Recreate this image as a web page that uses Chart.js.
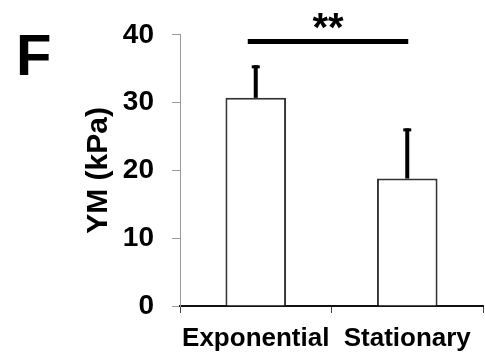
<!DOCTYPE html>
<html>
<head>
<meta charset="utf-8">
<script src="https://cdn.jsdelivr.net/npm/chart.js@4"></script>
<style>
  body { margin: 0; background: #fff; }
  #wrap { position: relative; width: 485px; height: 355px; }
</style>
</head>
<body>
<div id="wrap"><canvas id="ymChart"></canvas></div>
<script>
const categories = ['Exponential', 'Stationary']
const means = [30.7, 18.8]
const errors = [4.8, 7.4]
const yTicks = [0, 10, 20, 30, 40]
const panelLabel = 'F'
const sigLabel = '**'
const sigLevel = 39

const FONT = "'Liberation Sans', Arial, sans-serif"

// error bars + significance line + panel letter
const extras = {
  id: 'extras',
  afterDatasetsDraw(chart) {
    const ctx = chart.ctx
    const y = chart.scales.y
    const bars = chart.getDatasetMeta(0).data
    ctx.save()
    ctx.strokeStyle = '#000'
    bars.forEach((bar, i) => {
      const top = y.getPixelForValue(means[i] + errors[i])
      const base = y.getPixelForValue(means[i])
      ctx.lineWidth = 4
      ctx.beginPath()
      ctx.moveTo(bar.x, base)
      ctx.lineTo(bar.x, top)
      ctx.stroke()
      ctx.lineWidth = 3
      ctx.beginPath()
      ctx.moveTo(bar.x - 4, top + 1.5)
      ctx.lineTo(bar.x + 4, top + 1.5)
      ctx.stroke()
    })

    const sy = y.getPixelForValue(sigLevel)
    const x0 = bars[0].x - 8
    const x1 = bars[1].x + 1
    ctx.lineWidth = 5
    ctx.beginPath()
    ctx.moveTo(x0, sy)
    ctx.lineTo(x1, sy)
    ctx.stroke()

    ctx.fillStyle = '#000'
    ctx.textAlign = 'center'
    ctx.textBaseline = 'alphabetic'
    ctx.font = 'bold 40px ' + FONT
    ctx.fillText(sigLabel, (x0 + x1) / 2, sy - 1)

    ctx.textAlign = 'left'
    ctx.font = 'bold 58px ' + FONT
    ctx.fillText(panelLabel, 16, 75)
    ctx.restore()
  },
}

new Chart(document.getElementById('ymChart'), {
  type: 'bar',
  data: {
    labels: categories,
    datasets: [
      {
        data: means,
        backgroundColor: '#fff',
        borderColor: '#333',
        borderWidth: 2,
        barPercentage: 0.4,
        categoryPercentage: 1,
      },
    ],
  },
  options: {
    responsive: true,
    maintainAspectRatio: false,
    animation: false,
    layout: { padding: { top: 31, right: 2, left: 0, bottom: 0 } },
    plugins: {
      legend: { display: false },
      tooltip: { enabled: false },
    },
    scales: {
      x: {
        grid: {
          offset: true,
          drawOnChartArea: false,
          tickLength: 7,
          color: '#444',
        },
        border: { color: '#111', width: 2 },
        ticks: {
          color: '#000',
          padding: 10,
          maxRotation: 0,
          font: { family: FONT, size: 26, weight: 'bold' },
        },
        afterFit(scale) {
          scale.height = 49
        },
      },
      y: {
        min: 0,
        max: 40,
        afterBuildTicks(scale) {
          scale.ticks = yTicks.map((v) => ({ value: v }))
        },
        grid: {
          drawOnChartArea: false,
          tickLength: 8,
          color: '#999',
        },
        border: { color: '#999', width: 1 },
        ticks: {
          color: '#000',
          padding: 18,
          font: { family: FONT, size: 28, weight: 'bold' },
        },
        title: {
          display: true,
          text: 'YM (kPa)',
          color: '#000',
          padding: { top: 81, bottom: 0 },
          font: { family: FONT, size: 30, weight: 'bold' },
        },
        afterFit(scale) {
          scale.width = 180
        },
      },
    },
  },
  plugins: [extras],
})
</script>
</body>
</html>
